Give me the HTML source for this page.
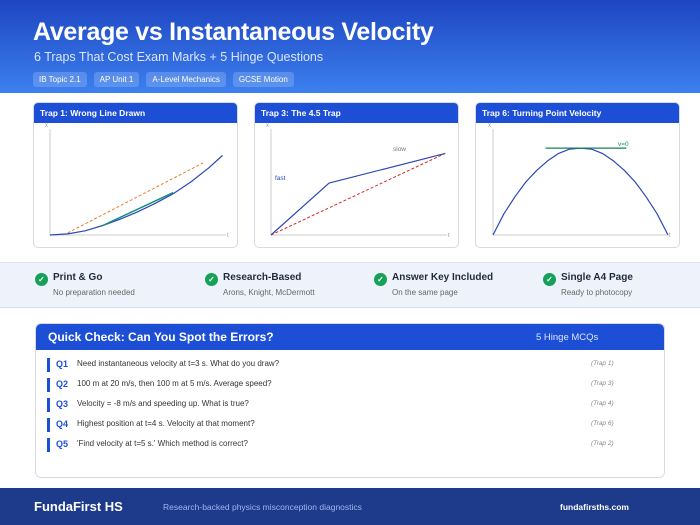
<!DOCTYPE html>
<html><head><meta charset="utf-8"><style>
*{margin:0;padding:0;box-sizing:border-box}
body{width:700px;height:525px;overflow:hidden;font-family:"Liberation Sans",sans-serif;background:#fff;position:relative}
.hdr{position:absolute;left:0;top:0;width:700px;height:93px;background:linear-gradient(180deg,#1e45c2,#3c80ee)}
.hdr h1{position:absolute;left:33px;top:18px;font-size:25px;color:#fff;font-weight:bold;letter-spacing:-0.3px}
.hdr .sub{position:absolute;left:34px;top:50px;font-size:12.5px;color:#dbe7ff}
.tags{position:absolute;left:33px;top:72px;display:flex;gap:7px}
.tag{background:rgba(255,255,255,.18);color:#fff;font-size:8px;padding:3px 6px;border-radius:3px}
.card{position:absolute;top:102px;width:205px;height:146px;border:1px solid #d6dbe3;border-radius:5px;background:#fff;overflow:hidden}
.card .ch{height:20px;background:#1c4fd6;color:#fff;font-size:8.5px;font-weight:bold;padding:5px 6px}
.card svg{position:absolute;left:0;top:0}
.feat{position:absolute;left:0;top:262px;width:700px;height:46px;background:#eef3fb;border-top:1px solid #dde4ef;border-bottom:1px solid #d7dde6}
.fi{position:absolute;top:9px}
.fi .ic{position:absolute;left:0;top:1px;width:13px;height:13px;border-radius:50%;background:#17a058;color:#fff;font-size:8px;text-align:center;line-height:13px;font-weight:bold}
.fi .t{position:absolute;left:18px;top:0;font-size:10px;font-weight:bold;color:#1f2a3c;white-space:nowrap}
.fi .s{position:absolute;left:18px;top:16px;font-size:8px;color:#666;white-space:nowrap}
.qc{position:absolute;left:35px;top:323px;width:630px;height:155px;border:1px solid #d6dbe3;border-radius:6px;overflow:hidden}
.qh{height:26px;background:#1c4fd6;color:#fff;position:relative}
.qh .a{position:absolute;left:12px;top:6px;font-size:12px;font-weight:bold}
.qh .b{position:absolute;left:500px;top:8px;font-size:9.5px;color:#dbe5ff}
.row{position:absolute;left:11px;height:14px;border-left:3px solid #1c4fd6;width:600px}
.row .q{position:absolute;left:6px;top:1px;font-size:9px;color:#1c4fd6;font-weight:bold}
.row .x{position:absolute;left:27px;top:1px;font-size:8px;color:#333}
.row .r{position:absolute;left:541px;top:2px;font-size:6.5px;color:#888;font-style:italic}
.ft{position:absolute;left:0;top:488px;width:700px;height:37px;background:#1e3a8a}
</style></head><body>
<div class="hdr">
<h1>Average vs Instantaneous Velocity</h1>
<div class="sub">6 Traps That Cost Exam Marks + 5 Hinge Questions</div>
<div class="tags"><span class="tag">IB Topic 2.1</span><span class="tag">AP Unit 1</span><span class="tag">A-Level Mechanics</span><span class="tag">GCSE Motion</span></div>
</div>

<div class="card" style="left:33px"><div class="ch">Trap 1: Wrong Line Drawn</div><svg id="c1" width="205" height="146"></svg></div>
<div class="card" style="left:254px"><div class="ch">Trap 3: The 4.5 Trap</div><svg id="c2" width="205" height="146"></svg></div>
<div class="card" style="left:475px"><div class="ch">Trap 6: Turning Point Velocity</div><svg id="c3" width="205" height="146"></svg></div>

<div class="feat">
<div class="fi" style="left:35px"><div class="ic">✓</div><div class="t">Print &amp; Go</div><div class="s">No preparation needed</div></div>
<div class="fi" style="left:205px"><div class="ic">✓</div><div class="t">Research-Based</div><div class="s">Arons, Knight, McDermott</div></div>
<div class="fi" style="left:374px"><div class="ic">✓</div><div class="t">Answer Key Included</div><div class="s">On the same page</div></div>
<div class="fi" style="left:543px"><div class="ic">✓</div><div class="t">Single A4 Page</div><div class="s">Ready to photocopy</div></div>
</div>

<div class="qc">
<div class="qh"><span class="a">Quick Check: Can You Spot the Errors?</span><span class="b">5 Hinge MCQs</span></div>
<div class="row" style="top:34px"><span class="q">Q1</span><span class="x">Need instantaneous velocity at t=3 s. What do you draw?</span><span class="r">(Trap 1)</span></div>
<div class="row" style="top:54px"><span class="q">Q2</span><span class="x">100 m at 20 m/s, then 100 m at 5 m/s. Average speed?</span><span class="r">(Trap 3)</span></div>
<div class="row" style="top:74px"><span class="q">Q3</span><span class="x">Velocity = -8 m/s and speeding up. What is true?</span><span class="r">(Trap 4)</span></div>
<div class="row" style="top:94px"><span class="q">Q4</span><span class="x">Highest position at t=4 s. Velocity at that moment?</span><span class="r">(Trap 6)</span></div>
<div class="row" style="top:114px"><span class="q">Q5</span><span class="x">'Find velocity at t=5 s.' Which method is correct?</span><span class="r">(Trap 2)</span></div>
</div>

<div class="ft">
<span style="position:absolute;left:34px;top:11px;font-size:13px;font-weight:bold;color:#fff">FundaFirst HS</span>
<span style="position:absolute;left:163px;top:14px;font-size:8.5px;color:#9fb8f0">Research-backed physics misconception diagnostics</span>
<span style="position:absolute;left:560px;top:14px;font-size:8.5px;font-weight:bold;color:#fff">fundafirsths.com</span>
</div>

<script>
// Trap 1 data (t, x)
const t1Curve=[0,1,2,3,4,5,6,7,8,9,9.8];
const x1Curve=[0,1,4,9,15,22,30,39,50,63,75];
const t1Secant=[1,8.7];
const x1Secant=[2,68];
const t1Tangent=[3,7];
const x1Tangent=[9,40];
// Trap 3 data
const t3Actual=[0,3.3,9.9];
const x3Actual=[0,49,77];
const t3Avg=[0,9.9];
const x3Avg=[0,77];
// Trap 6 data
const t6Curve=[0,0.5,1,1.5,2,2.5,3,3.5,4,4.5,5,5.5,6,6.5,7,7.5,8];
const x6Curve=[0,20,36,50,61,70,77,81,82,81,77,70,61,50,36,20,0];
const t6Tangent=[2.4,6.1];
const x6Tangent=[82,82];

const NS='http://www.w3.org/2000/svg';
function mk(svg,tag,attrs){const e=document.createElementNS(NS,tag);for(const k in attrs)e.setAttribute(k,attrs[k]);svg.appendChild(e);return e;}
function axes(svg,x0,x1,y0,y1,tMax,xMax){
  mk(svg,'line',{x1:x0,y1:y0,x2:x0,y2:y1,stroke:'#ccc','stroke-width':1});
  mk(svg,'line',{x1:x0,y1:y0,x2:x1,y2:y0,stroke:'#ccc','stroke-width':1});
  const lx=mk(svg,'text',{x:x0-5,y:y1-2,'font-size':6,fill:'#999'});lx.textContent='x';
  const lt=mk(svg,'text',{x:x1+1,y:y0+2,'font-size':6,fill:'#999'});lt.textContent='t';
  return {sx:t=>x0+(x1-x0)*t/tMax, sy:v=>y0-(y0-y1)*v/xMax};
}
function line(svg,ax,ts,xs,attrs,name){
  const pts=ts.map((t,i)=>ax.sx(t).toFixed(1)+','+ax.sy(xs[i]).toFixed(1)).join(' ');
  const p=mk(svg,'polyline',Object.assign({points:pts,fill:'none','stroke-linejoin':'round'},attrs));
  
  
}
function label(svg,x,y,txt,col){const e=mk(svg,'text',{x:x,y:y,'font-size':6.5,fill:col});e.textContent=txt;}

const c1=document.getElementById('c1');
const a1=axes(c1,16,192,132,26,10,100);
line(c1,a1,t1Secant,x1Secant,{stroke:'#e8802a','stroke-width':1,'stroke-dasharray':'3,2'},'secant-line');
line(c1,a1,t1Curve,x1Curve,{stroke:'#2c48b8','stroke-width':1.2},'position-curve');
line(c1,a1,t1Tangent,x1Tangent,{stroke:'#16907a','stroke-width':1.5},'tangent-line');

const c2=document.getElementById('c2');
const a2=axes(c2,16,192,132,26,10,100);
line(c2,a2,t3Avg,x3Avg,{stroke:'#d42b2b','stroke-width':1,'stroke-dasharray':'3,2'},'average-line');
line(c2,a2,t3Actual,x3Actual,{stroke:'#2c48b8','stroke-width':1.2},'actual-path');
label(c2,20,77,'fast','#2c48b8');label(c2,138,48,'slow','#777');

const c3=document.getElementById('c3');
const a3=axes(c3,17,192,132,26,8,100);
line(c3,a3,t6Curve,x6Curve,{stroke:'#2c48b8','stroke-width':1.2},'parabola-curve');
line(c3,a3,t6Tangent,x6Tangent,{stroke:'#16805a','stroke-width':1.3},'zero-tangent');
label(c3,142,43,'v=0','#16905a');
</script>
</body></html>
